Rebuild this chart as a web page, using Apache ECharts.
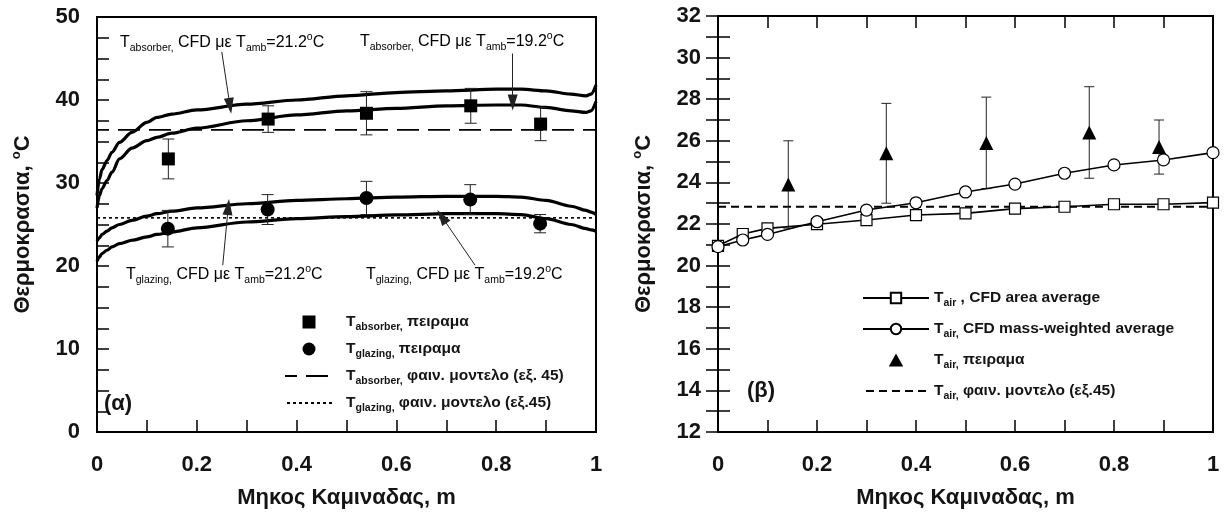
<!DOCTYPE html>
<html>
<head>
<meta charset="utf-8">
<script src="https://cdn.jsdelivr.net/npm/echarts@6/dist/echarts.min.js"></script>
<style>
  html, body { margin: 0; padding: 0; background: #fff; }
  #chart { width: 1225px; height: 518px; }
</style>
</head>
<body>
<div id="chart"></div>
<script>
// (α) CFD curves along the chimney, shared x positions
const cfdX = [0, 0.005, 0.01, 0.02, 0.03, 0.045, 0.07, 0.1, 0.12, 0.15, 0.2, 0.3, 0.4, 0.5, 0.6, 0.7, 0.8, 0.85, 0.9, 0.95, 0.98, 0.99, 1.0]
const absCfd212 = [28.5, 30.5, 31.6, 32.7, 33.7, 34.9, 36.1, 37.3, 37.9, 38.3, 38.8, 39.5, 40.0, 40.5, 40.9, 41.1, 41.3, 41.3, 41.1, 40.7, 40.5, 40.7, 41.8]
const absCfd192 = [27.0, 28.5, 29.3, 30.3, 31.3, 32.9, 34.2, 35.1, 35.5, 36.0, 36.6, 37.5, 38.2, 38.7, 39.0, 39.3, 39.4, 39.4, 39.1, 38.7, 38.5, 38.7, 39.8]
const glzCfd212 = [23.0, 23.4, 23.8, 24.2, 24.6, 25.0, 25.5, 26.0, 26.3, 26.6, 27.0, 27.5, 27.9, 28.1, 28.3, 28.4, 28.4, 28.3, 27.9, 27.2, 26.7, 26.5, 26.2]
const glzCfd192 = [20.6, 21.1, 21.5, 21.9, 22.3, 22.7, 23.1, 23.5, 23.8, 24.1, 24.6, 25.3, 25.7, 25.95, 26.15, 26.3, 26.3, 26.2, 25.7, 25.0, 24.5, 24.35, 24.2]

// (α) measurements with error bars
const absExpX = [0.143, 0.343, 0.54, 0.749, 0.889]
const absExpY = [32.9, 37.7, 38.4, 39.3, 37.1]
const absExpErr = [2.4, 1.6, 2.6, 2.1, 2.0]
const glzExpX = [0.142, 0.342, 0.54, 0.748, 0.888]
const glzExpY = [24.5, 26.8, 28.2, 28.0, 25.1]
const glzExpErr = [2.2, 1.8, 2.0, 1.8, 1.1]

// (α) phenomenological model (constant)
const absModel = 36.4
const glzModel = 25.8

// (β) air temperature
const airX = [0, 0.05, 0.1, 0.2, 0.3, 0.4, 0.5, 0.6, 0.7, 0.8, 0.9, 1.0]
const airArea = [20.95, 21.52, 21.79, 21.99, 22.19, 22.43, 22.51, 22.74, 22.83, 22.95, 22.95, 23.03]
const airMass = [20.91, 21.23, 21.5, 22.11, 22.67, 23.02, 23.54, 23.92, 24.44, 24.84, 25.08, 25.43]
const airExpX = [0.142, 0.34, 0.542, 0.75, 0.891]
const airExpY = [23.9, 25.4, 25.9, 26.4, 25.7]
const airExpErr = [2.1, 2.4, 2.2, 2.2, 1.3]
const airModel = 22.83

// arrows of the (α) annotations: [fromX, fromY, toX, toY]
const arrows = [
  [0.25, 45.8, 0.2665, 39.3],
  [0.833, 45.6, 0.833, 39.7],
  [0.252, 20.1, 0.263, 27.1],
  [0.7575, 20.1, 0.691, 25.95],
]

const FONT = '"Liberation Sans", Arial, sans-serif'
const INK = '#141414'
const NO_MARK = { color: 'rgba(0,0,0,0)', borderColor: 'rgba(0,0,0,0)', borderWidth: 0 }
const SQUARE = 'path://M0 0H10V10H0Z'
const TRIANGLE = 'path://M5 0L10 9H0Z'

const pairs = (xs, ys) => xs.map((x, i) => [x, ys[i]])
const triples = (xs, ys, es) => xs.map((x, i) => [x, ys[i], es[i]])

const richSub = {
  n: { fontSize: 16, fontFamily: FONT, color: INK, lineHeight: 22, verticalAlign: 'middle' },
  s: { fontSize: 10.5, fontFamily: FONT, color: INK, lineHeight: 10, verticalAlign: 'bottom' },
  p: { fontSize: 10.5, fontFamily: FONT, color: INK, lineHeight: 10, verticalAlign: 'top' },
}
const richBold = {
  n: { ...richSub.n, fontSize: 15.5, fontWeight: 'bold' },
  s: { ...richSub.s, fontWeight: 'bold' },
}

const annText = (sub, amb) => `{n|T}{s|${sub},}{n| CFD με T}{s|amb}{n|=${amb}}{p|o}{n|C}`

const legendLabels = {
  absExp: '{n|T}{s|absorber,}{n| πειραμα}',
  glzExp: '{n|T}{s|glazing,}{n| πειραμα}',
  absMod: '{n|T}{s|absorber,}{n| φαιν. μοντελο (εξ. 45)}',
  glzMod: '{n|T}{s|glazing,}{n| φαιν. μοντελο (εξ.45)}',
  airArea: '{n|T}{s|air}{n| , CFD area average}',
  airMass: '{n|T}{s|air,}{n| CFD mass-weighted average}',
  airExp: '{n|T}{s|air,}{n| πειραμα}',
  airMod: '{n|T}{s|air,}{n| φαιν. μοντελο (εξ.45)}',
}

const errorBars = (capHalf) => (params, api) => {
  const x = api.value(0)
  const y = api.value(1)
  const e = api.value(2)
  const hi = api.coord([x, y + e])
  const lo = api.coord([x, y - e])
  const style = { stroke: '#222', lineWidth: 1 }
  return {
    type: 'group',
    children: [
      { type: 'line', shape: { x1: hi[0], y1: hi[1], x2: lo[0], y2: lo[1] }, style },
      { type: 'line', shape: { x1: hi[0] - capHalf, y1: hi[1], x2: hi[0] + capHalf, y2: hi[1] }, style },
      { type: 'line', shape: { x1: lo[0] - capHalf, y1: lo[1], x2: lo[0] + capHalf, y2: lo[1] }, style },
    ],
  }
}

const tickLabel = { fontSize: 22, fontWeight: 'bold', fontFamily: FONT, color: INK }
const xLabelFmt = (v) => (v === 0 || v === 1 ? String(v) : v.toFixed(1))

const xAxisBase = (gridIndex, extra) => ({
  gridIndex,
  type: 'value',
  min: 0,
  max: 1,
  interval: 0.2,
  axisLine: { lineStyle: { color: '#000', width: 2 } },
  axisTick: { inside: true, length: 12, lineStyle: { color: '#000', width: 1.5 } },
  minorTick: { show: true, splitNumber: 2, length: 12, lineStyle: { color: '#000', width: 1.5 } },
  splitLine: { show: false },
  ...extra,
})

const yAxisBase = (gridIndex, min, max, interval, split, extra) => ({
  gridIndex,
  type: 'value',
  min,
  max,
  interval,
  axisLine: { show: true, lineStyle: { color: '#000', width: 2 } },
  axisTick: { inside: true, length: 12, lineStyle: { color: '#000', width: 1.5 } },
  minorTick: { show: true, splitNumber: split, length: 12, lineStyle: { color: '#000', width: 1.5 } },
  splitLine: { show: false },
  ...extra,
})

const xName = {
  name: 'Μηκος Καμιναδας, m',
  nameLocation: 'middle',
  nameGap: 55,
  nameTextStyle: { fontSize: 22, fontWeight: 'bold', fontFamily: FONT, color: INK },
  axisLabel: { ...tickLabel, margin: 22, formatter: xLabelFmt },
}
const yName = {
  name: 'Θερμοκρασια, {p|o}C',
  nameLocation: 'middle',
  nameGap: 61,
  nameTextStyle: {
    fontSize: 22, fontWeight: 'bold', fontFamily: FONT, color: INK, lineHeight: 26,
    rich: { p: { fontSize: 13, fontWeight: 'bold', fontFamily: FONT, color: INK, lineHeight: 12, verticalAlign: 'top' } },
  },
  axisLabel: { ...tickLabel, margin: 17 },
}

const cfdLine = (name, ys) => ({
  name,
  type: 'line',
  xAxisIndex: 0,
  yAxisIndex: 0,
  data: pairs(cfdX, ys),
  symbol: 'none',
  smooth: 0.3,
  smoothMonotone: 'x',
  lineStyle: { color: '#000', width: 3.2 },
  z: 3,
})

const chart = echarts.init(document.getElementById('chart'))
chart.setOption({
  animation: false,
  backgroundColor: '#fff',
  grid: [
    { left: 97, top: 17, width: 499, height: 415, show: true, borderColor: '#000', borderWidth: 2, backgroundColor: 'transparent' },
    { left: 718, top: 16, width: 495, height: 416, show: true, borderColor: '#000', borderWidth: 2, backgroundColor: 'transparent' },
  ],
  xAxis: [
    xAxisBase(0, xName),
    xAxisBase(1, xName),
    xAxisBase(1, { position: 'top', axisLabel: { show: false } }),
  ],
  yAxis: [
    yAxisBase(0, 0, 50, 10, 4, yName),
    yAxisBase(1, 12, 32, 2, 2, yName),
    yAxisBase(1, 12, 32, 2, 2, { position: 'right', axisLabel: { show: false } }),
  ],
  legend: [
    {
      left: 279,
      top: 309,
      orient: 'vertical',
      itemWidth: 48,
      itemHeight: 13,
      itemGap: 8,
      selectedMode: false,
      data: [
        { name: 'absExp', icon: SQUARE },
        { name: 'glzExp', icon: 'circle' },
        { name: 'absMod', itemStyle: NO_MARK },
        { name: 'glzMod', itemStyle: NO_MARK },
      ],
      formatter: (n) => legendLabels[n],
      textStyle: { padding: [0, 0, 0, 8], rich: richBold },
    },
    {
      left: 857,
      top: 285,
      orient: 'vertical',
      itemWidth: 66,
      itemHeight: 13,
      itemGap: 12,
      selectedMode: false,
      data: ['airArea', 'airMass', { name: 'airExp', icon: TRIANGLE }, { name: 'airMod', itemStyle: NO_MARK }],
      formatter: (n) => legendLabels[n],
      textStyle: { padding: [0, 0, 0, 0], rich: richBold },
    },
  ],
  graphic: [
    { type: 'text', left: 120, top: 32, style: { text: annText('absorber', '21.2'), rich: richSub } },
    { type: 'text', left: 360, top: 31, style: { text: annText('absorber', '19.2'), rich: richSub } },
    { type: 'text', left: 126, top: 264, style: { text: annText('glazing', '21.2'), rich: richSub } },
    { type: 'text', left: 366, top: 264, style: { text: annText('glazing', '19.2'), rich: richSub } },
    { type: 'text', left: 104, top: 393, style: { text: '(α)', fontSize: 22, fontWeight: 'bold', fontFamily: FONT, fill: INK } },
    { type: 'text', left: 747, top: 380, style: { text: '(β)', fontSize: 22, fontWeight: 'bold', fontFamily: FONT, fill: INK } },
  ],
  series: [
    cfdLine('abs212', absCfd212),
    cfdLine('abs192', absCfd192),
    cfdLine('glz212', glzCfd212),
    cfdLine('glz192', glzCfd192),
    {
      name: 'absMod',
      type: 'line',
      xAxisIndex: 0,
      yAxisIndex: 0,
      data: [[0, absModel], [1, absModel]],
      symbol: 'none',
      itemStyle: { color: '#000' },
      lineStyle: { color: '#000', width: 1.6, type: [22, 9], dashOffset: 10 },
      z: 2,
      markLine: {
        silent: true,
        symbol: ['none', 'triangle'],
        symbolSize: [10, 16],
        label: { show: false },
        lineStyle: { color: '#222', width: 1, type: 'solid' },
        data: arrows.map((a) => [{ coord: [a[0], a[1]] }, { coord: [a[2], a[3]] }]),
      },
    },
    {
      name: 'glzMod',
      type: 'line',
      xAxisIndex: 0,
      yAxisIndex: 0,
      data: [[0, glzModel], [1, glzModel]],
      symbol: 'none',
      itemStyle: { color: '#000' },
      lineStyle: { color: '#000', width: 1.6, type: [3, 3] },
      z: 2,
    },
    {
      name: 'absErr',
      type: 'custom',
      xAxisIndex: 0,
      yAxisIndex: 0,
      data: triples(absExpX, absExpY, absExpErr),
      encode: { x: 0, y: 1 },
      renderItem: errorBars(6),
      z: 4,
    },
    {
      name: 'glzErr',
      type: 'custom',
      xAxisIndex: 0,
      yAxisIndex: 0,
      data: triples(glzExpX, glzExpY, glzExpErr),
      encode: { x: 0, y: 1 },
      renderItem: errorBars(6),
      z: 4,
    },
    {
      name: 'absExp',
      type: 'scatter',
      xAxisIndex: 0,
      yAxisIndex: 0,
      data: pairs(absExpX, absExpY),
      symbol: 'rect',
      symbolSize: 13,
      itemStyle: { color: '#000', opacity: 1 },
      z: 5,
    },
    {
      name: 'glzExp',
      type: 'scatter',
      xAxisIndex: 0,
      yAxisIndex: 0,
      data: pairs(glzExpX, glzExpY),
      symbol: 'circle',
      symbolSize: 14,
      itemStyle: { color: '#000', opacity: 1 },
      z: 5,
    },
    {
      name: 'airMod',
      type: 'line',
      xAxisIndex: 1,
      yAxisIndex: 1,
      data: [[0, airModel], [1, airModel]],
      symbol: 'none',
      itemStyle: { color: '#000' },
      lineStyle: { color: '#000', width: 2, type: [8, 5] },
      z: 2,
    },
    {
      name: 'airErr',
      type: 'custom',
      xAxisIndex: 1,
      yAxisIndex: 1,
      data: triples(airExpX, airExpY, airExpErr),
      encode: { x: 0, y: 1 },
      renderItem: errorBars(5),
      z: 3,
    },
    {
      name: 'airArea',
      type: 'line',
      xAxisIndex: 1,
      yAxisIndex: 1,
      data: pairs(airX, airArea),
      symbol: 'rect',
      symbolSize: 11,
      clip: false,
      lineStyle: { color: '#000', width: 1.6 },
      itemStyle: { color: '#fff', borderColor: '#000', borderWidth: 1.2 },
      z: 4,
    },
    {
      name: 'airMass',
      type: 'line',
      xAxisIndex: 1,
      yAxisIndex: 1,
      data: pairs(airX, airMass),
      symbol: 'circle',
      symbolSize: 12,
      clip: false,
      lineStyle: { color: '#000', width: 1.6 },
      itemStyle: { color: '#fff', borderColor: '#000', borderWidth: 1.2 },
      z: 5,
    },
    {
      name: 'airExp',
      type: 'scatter',
      xAxisIndex: 1,
      yAxisIndex: 1,
      data: pairs(airExpX, airExpY),
      symbol: 'triangle',
      symbolSize: 14,
      itemStyle: { color: '#000', opacity: 1 },
      z: 6,
    },
  ],
})
</script>
</body>
</html>
